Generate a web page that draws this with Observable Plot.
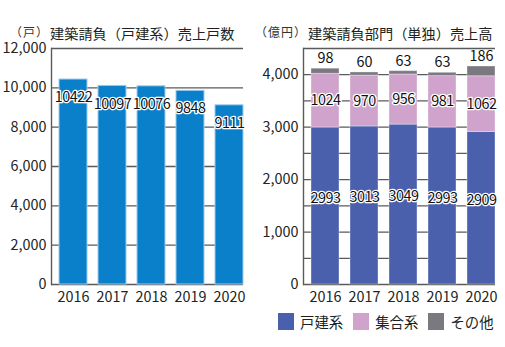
<!DOCTYPE html>
<html><head><meta charset="utf-8">
<script src="https://cdn.jsdelivr.net/npm/d3@7"></script>
<script src="https://cdn.jsdelivr.net/npm/@observablehq/plot@0.6"></script>
<style>
body{margin:0;background:#fff;font-family:"Noto Sans CJK JP","Noto Sans",sans-serif;color:#231f20}
#wrap{position:relative;width:505px;height:347px;overflow:hidden}
.chart{position:absolute;top:0}
.title{position:absolute;top:24px;font-size:14.2px;white-space:nowrap;line-height:18px}
.unit{position:absolute;top:26px;font-size:12px;letter-spacing:1px;white-space:nowrap;line-height:11px;height:11px;color:#333}
.legend{position:absolute;top:313px;left:278px;display:flex;font-size:14.4px;line-height:17px;white-space:nowrap}
.legend .item{display:flex;align-items:center;margin-right:10px}
.legend .sw{width:16px;height:17px;margin-right:6px}
.cond text{letter-spacing:-0.5px}
</style>
</head><body>
<div id="wrap"></div>
<script>
// ---- data ----
const years = ["2016", "2017", "2018", "2019", "2020"];
const houseCounts = [10422, 10097, 10076, 9848, 9111];
const detached = [2993, 3013, 3049, 2993, 2909];
const apartment = [1024, 970, 956, 981, 1062];
const others = [98, 60, 63, 63, 186];
const seriesNames = ["戸建系", "集合系", "その他"];
const leftTicks = [0, 2000, 4000, 6000, 8000, 10000, 12000];
const rightTicks = [0, 1000, 2000, 3000, 4000];
const rightGrid = [0, 500, 1000, 1500, 2000, 2500, 3000, 3500, 4000, 4500];
const leftTitle = "建築請負（戸建系）売上戸数";
const leftUnit = "（戸）";
const rightTitle = "建築請負部門（単独）売上高";
const rightUnit = "（億円）";

// ---- styles ----
const leftColor = "#0a7fca";
const seriesColors = ["#4b60ad", "#cfa3cb", "#7a797f"];
const gridColor = "#5a5a5a";
const font = "'Noto Sans CJK JP', 'Noto Sans', sans-serif";

const wrap = document.getElementById("wrap");
const fmt = d3.format(",");

const leftRows = years.map((year, i) => ({year, value: houseCounts[i]}));
const seriesValues = [detached, apartment, others];
const rightRows = years.flatMap((year, i) =>
  seriesNames.map((s, k) => ({year, series: s, value: seriesValues[k][i]})));

const common = {
  width: 252, height: 347, marginTop: 48, marginBottom: 63, marginLeft: 51,
  style: {fontFamily: font, fontSize: "14.4px", color: "#222", background: "transparent", overflow: "visible"}
};
const xOpts = {domain: years, paddingInner: 0.282, paddingOuter: 0.1026, align: 1, round: false, label: null, tickSize: 0, tickPadding: 7};

const left = Plot.plot({
  ...common, marginRight: 9,
  x: {...xOpts, range: [51, 243]},
  y: {domain: [0, 12000], ticks: leftTicks, tickFormat: fmt, label: null, tickSize: 0, tickPadding: 5},
  marks: [
    Plot.ruleY(leftTicks, {stroke: gridColor, strokeWidth: 1.3}),
    Plot.frame({anchor: "left", stroke: gridColor, strokeWidth: 1.4}),
    Plot.barY(leftRows, {x: "year", y: "value", fill: leftColor, stroke: "#9ccbee", strokeWidth: 1}),
    Plot.text(leftRows, {x: "year", y: "value", text: d => String(d.value), dy: 18, fill: "#111", stroke: "white", strokeWidth: 2.5, fontSize: 14.4, className: "cond"})
  ]
});
left.classList.add("chart");
left.style.left = "0px";
wrap.appendChild(left);

const right = Plot.plot({
  ...common, width: 253, marginRight: 10,
  x: {...xOpts, range: [51, 243]},
  y: {domain: [0, 4500], ticks: rightTicks, tickFormat: fmt, label: null, tickSize: 0, tickPadding: 5},
  color: {domain: seriesNames, range: seriesColors},
  marks: [
    Plot.ruleY(rightGrid, {stroke: gridColor, strokeWidth: 1.3}),
    Plot.frame({anchor: "left", stroke: gridColor, strokeWidth: 1.4}),
    Plot.barY(rightRows, {x: "year", y: "value", z: "series", fill: "series", stroke: "white", strokeOpacity: 0.35, strokeWidth: 1}),
    Plot.text(rightRows, Plot.stackY({x: "year", y: "value", z: "series",
      text: d => d.series === seriesNames[0] ? String(d.value) : null,
      dy: -8, fill: "#111", stroke: "white", strokeWidth: 2.5, fontSize: 14.4, className: "cond"})),
    Plot.text(rightRows, Plot.stackY({x: "year", y: "value", z: "series",
      text: d => d.series === seriesNames[1] ? String(d.value) : null,
      fill: "#111", stroke: "white", strokeWidth: 2.5, fontSize: 14.4, className: "cond"})),
    Plot.text(rightRows, Plot.stackY2({x: "year", y: "value", z: "series",
      text: d => d.series === seriesNames[2] ? String(d.value) : null,
      dy: -10, fill: "#111", fontSize: 14.4}))
  ]
});
right.classList.add("chart");
right.style.left = "252px";
wrap.appendChild(right);

// titles
function addText(cls, text, x) {
  const el = document.createElement("div");
  el.className = cls; el.textContent = text; el.style.left = x + "px";
  wrap.appendChild(el);
}
addText("unit", leftUnit, 10);
addText("title", leftTitle, 50);
addText("unit", rightUnit, 255);
addText("title", rightTitle, 308);

// legend
const lg = document.createElement("div");
lg.className = "legend";
seriesNames.forEach((s, k) => {
  const it = document.createElement("div"); it.className = "item";
  const sw = document.createElement("div"); sw.className = "sw"; sw.style.background = seriesColors[k];
  const tx = document.createElement("span"); tx.textContent = s;
  it.appendChild(sw); it.appendChild(tx); lg.appendChild(it);
});
wrap.appendChild(lg);
</script>
</body></html>
